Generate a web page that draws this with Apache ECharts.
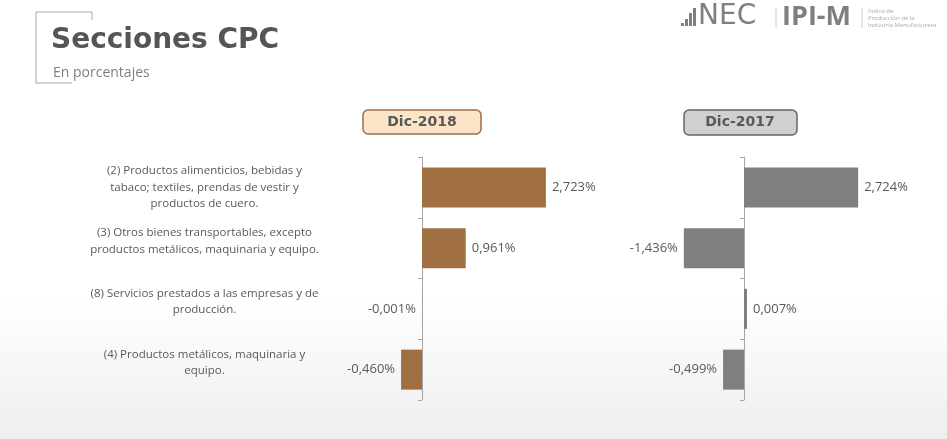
<!DOCTYPE html>
<html><head><meta charset="utf-8">
<script src="https://cdn.jsdelivr.net/npm/echarts@6/dist/echarts.min.js"></script>
<style>html,body{margin:0;padding:0;background:#fff}#c{width:947px;height:439px}</style>
</head><body><div id="c"></div>
<script>
const categories = [
  "(2) Productos alimenticios, bebidas y\ntabaco; textiles, prendas de vestir y\nproductos de cuero.",
  "(3) Otros bienes transportables, excepto\nproductos metálicos, maquinaria y equipo.",
  "(8) Servicios prestados a las empresas y de\nproducción.",
  "(4) Productos metálicos, maquinaria y\nequipo."
];
const periods = ["Dic-2018", "Dic-2017"];
const dic2018 = [2.723, 0.961, -0.001, -0.460];
const dic2017 = [2.724, -1.436, 0.007, -0.499];

const FONT = "'Open Sans', sans-serif";
const TXT = '#595959';
function fmt(v) { return v.toFixed(3).replace('.', ',') + '%'; }
function items(arr) {
  return arr.map(v => ({ value: v, label: { position: v >= 0 ? 'right' : 'left' } }));
}
const labelStyle = { align: 'center', color: TXT, fontFamily: FONT, fontSize: 11.5, lineHeight: 16.5 };

const chart = echarts.init(document.getElementById('c'));
const axisBase = (showLabels, margin) => ({
  type: 'category', data: categories, inverse: true,
  axisLine: { onZero: true, lineStyle: { color: '#a6a6a6', width: 1 } },
  axisTick: { show: true, length: 4, lineStyle: { color: '#a6a6a6' } },
  axisLabel: showLabels ? Object.assign({
    show: true, margin: margin,
    formatter: (v, i) => i === 0 ? v : v + '\n{s|}',
    rich: { s: { lineHeight: 14, fontSize: 1 } }
  }, labelStyle) : { show: false },
  splitLine: { show: false }
});
const xBase = (min, max) => ({ type: 'value', min: min, max: max, show: false, splitLine: { show: false } });

chart.setOption({
  backgroundColor: {
    type: 'linear', x: 0, y: 0, x2: 0, y2: 1,
    colorStops: [{ offset: 0, color: '#ffffff' }, { offset: 0.68, color: '#ffffff' }, { offset: 1, color: '#eeeeee' }]
  },
  animation: false,
  textStyle: { fontFamily: FONT },
  title: [
    { text: 'Secciones CPC', left: 46, top: 22, textStyle: { fontSize: 28, fontWeight: 'bold', color: '#555555', fontFamily: "'DejaVu Sans', sans-serif" } },
    { text: 'En porcentajes', left: 48, top: 61, textStyle: { fontSize: 14, fontWeight: 'normal', color: '#7f7f7f', fontFamily: FONT } }
  ],
  grid: [
    { left: 422 - 45.5, width: 4 * 45.5, top: 157, height: 243, containLabel: false, outerBoundsMode: 'none' },
    { left: 744 - 2 * 41.9, width: 5 * 41.9, top: 157, height: 243, containLabel: false, outerBoundsMode: 'none' }
  ],
  xAxis: [ Object.assign(xBase(-1, 3), { gridIndex: 0 }), Object.assign(xBase(-2, 3), { gridIndex: 1 }) ],
  yAxis: [ Object.assign(axisBase(true, 172), { gridIndex: 0 }), Object.assign(axisBase(false, 0), { gridIndex: 1 }) ],
  series: [
    {
      name: periods[0], type: 'bar', xAxisIndex: 0, yAxisIndex: 0, data: items(dic2018), barWidth: 40,
      itemStyle: { color: '#a07042' },
      label: { show: true, distance: 6, color: TXT, fontSize: 13, fontFamily: FONT, formatter: p => fmt(p.value) }
    },
    {
      name: periods[1], type: 'bar', xAxisIndex: 1, yAxisIndex: 1, data: items(dic2017), barWidth: 40, barMinHeight: 3,
      itemStyle: { color: '#7f7f7f' },
      label: { show: true, distance: 6, color: TXT, fontSize: 13, fontFamily: FONT, formatter: p => fmt(p.value) }
    }
  ],
  graphic: [
    { type: 'polyline', shape: { points: [[92, 20], [92, 12], [36, 12], [36, 83], [72, 83]] }, style: { stroke: '#a6a6a6', lineWidth: 1, fill: null } },
    // period headers
    { type: 'rect', shape: { x: 363, y: 110, width: 118, height: 24, r: 5 }, style: { fill: '#fce4c8', stroke: '#9c6d44', lineWidth: 1.5 } },
    { type: 'text', x: 422, y: 122, style: { text: periods[0], fill: TXT, font: "bold 14px 'DejaVu Sans', sans-serif", align: 'center', verticalAlign: 'middle' } },
    { type: 'rect', shape: { x: 684, y: 110, width: 113, height: 25, r: 5 }, style: { fill: '#d0d0d0', stroke: '#666666', lineWidth: 1.5 } },
    { type: 'text', x: 740, y: 122.5, style: { text: periods[1], fill: TXT, font: "bold 14px 'DejaVu Sans', sans-serif", align: 'center', verticalAlign: 'middle' } },
    // logo
    { type: 'rect', shape: { x: 681, y: 23, width: 3, height: 3 }, style: { fill: '#7f7f7f' } },
    { type: 'rect', shape: { x: 685, y: 19, width: 3, height: 7 }, style: { fill: '#7f7f7f' } },
    { type: 'rect', shape: { x: 689, y: 13, width: 3, height: 13 }, style: { fill: '#7f7f7f' } },
    { type: 'rect', shape: { x: 693, y: 8, width: 3, height: 18 }, style: { fill: '#7f7f7f' } },
    { type: 'text', x: 698, y: 17, style: { text: 'NEC', fill: '#7f7f7f', font: "28px 'DejaVu Sans', sans-serif", verticalAlign: 'middle' } },
    { type: 'line', shape: { x1: 776, y1: 8, x2: 776, y2: 28 }, style: { stroke: '#cccccc', lineWidth: 1 } },
    { type: 'text', x: 782, y: 17, style: { text: 'IPI-M', fill: '#7f7f7f', font: "bold 27px 'Open Sans', sans-serif", verticalAlign: 'middle' } },
    { type: 'line', shape: { x1: 862, y1: 8, x2: 862, y2: 28 }, style: { stroke: '#cccccc', lineWidth: 1 } },
    { type: 'text', x: 868, y: 8, style: { text: 'Índice de\nProducción de la\nIndustria Manufacturera', fill: '#aaaaaa', font: "6px 'Open Sans', sans-serif", lineHeight: 7 } }
  ]
});
</script></body></html>
